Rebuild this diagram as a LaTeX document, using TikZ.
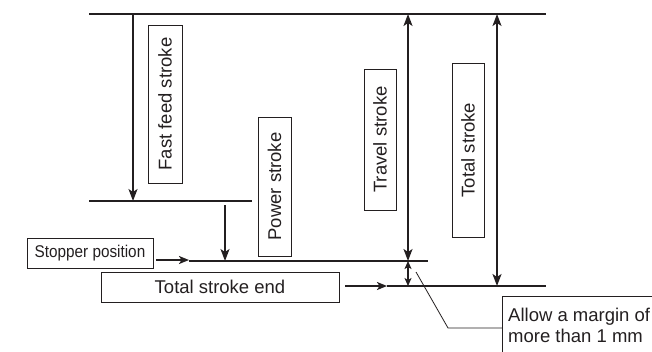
\documentclass[tikz,border=0pt]{standalone}
\usepackage{fontspec}
\setmainfont{Liberation Sans}
\usetikzlibrary{arrows.meta}
\definecolor{ink}{HTML}{231F20}
\tikzset{
  x=1pt, y=-1pt,
  every node/.style={text=ink, inner sep=0pt},
  lbl/.style={font=\fontsize{18.5}{21}\selectfont},
  vbox/.style={draw=ink, line width=0.9pt, rotate=90, lbl},
  hbox/.style={draw=ink, line width=0.9pt, lbl},
  level/.style={draw=ink, line width=1.2pt},
  dim/.style={draw=ink, line width=1.8pt,
    arrows={-Stealth[length=12pt,width=9pt,inset=3pt]}},
  dimboth/.style={draw=ink, line width=1.8pt,
    arrows={Stealth[length=12pt,width=9pt,inset=3pt]-Stealth[length=12pt,width=9pt,inset=3pt]}},
  small/.style={draw=ink, line width=1.6pt,
    arrows={Stealth[length=8pt,width=7pt,inset=2pt]-Stealth[length=8pt,width=7pt,inset=2pt]}},
  pointer/.style={draw=ink, line width=1.8pt,
    arrows={-Stealth[length=10pt,width=8pt,inset=2.5pt]}},
  leader/.style={draw=ink, line width=0.8pt},
}
\begin{document}
\begin{tikzpicture}
\useasboundingbox (0,0) rectangle (652,351);
\clip (0,0) rectangle (652,351);

% reference levels
\coordinate (topL) at (89,14);   \coordinate (topR) at (546,14);
\coordinate (midL) at (89,201);  \coordinate (midR) at (252,201);
\coordinate (stpL) at (189,261); \coordinate (stpR) at (428,261);
\coordinate (endL) at (387,286); \coordinate (endR) at (546,286);
\draw[level] (topL) -- (topR);
\draw[level] (midL) -- (midR);
\draw[level] (stpL) -- (stpR);
\draw[level] (endL) -- (endR);

% stroke arrows
\coordinate (ffT) at (133,14);  \coordinate (ffB) at (133,201);
\coordinate (pwT) at (225,205); \coordinate (pwB) at (225,261);
\coordinate (trT) at (408,14);  \coordinate (trB) at (408,261);
\coordinate (mgB) at (408,286);
\coordinate (toT) at (497,14);  \coordinate (toB) at (497,286);
\draw[dim] (ffT) -- (ffB);
\draw[dim] (pwT) -- (pwB);
\draw[dimboth] (trT) -- (trB);
\draw[small] (trB) -- (mgB);
\draw[dimboth] (toT) -- (toB);

% labels
\node[vbox, minimum width=158, minimum height=34] (fast) at (165,104) {Fast feed stroke};
\node[vbox, minimum width=139, minimum height=33] (power) at (274.5,186.5) {Power stroke};
\node[vbox, minimum width=141, minimum height=32] (travel) at (380,139.5) {Travel stroke};
\node[vbox, minimum width=174, minimum height=32] (total) at (468,150) {Total stroke};
\node[hbox, minimum width=126, minimum height=30,
      font=\fontsize{17}{20}\selectfont] (stopper) at (90,253)
      {\scalebox{0.9}[1]{Stopper position}};
\node[hbox, minimum width=238, minimum height=30] (tse) at (220,287) {Total stroke end};

% pointers to the levels
\draw[pointer] ([xshift=3pt]stopper.east |- 0,260) -- (stpL |- 0,260);
\draw[pointer] ([xshift=6pt]tse.east |- endL) -- (endL);

% margin note
\draw[draw=ink, line width=0.9pt] (670,296) -- (502,296) -- (502,370);
\node[lbl, anchor=west, align=left] (allow) at (508,325.5) {Allow a margin of\\more than 1 mm};
\coordinate (ldA) at (416,272);
\coordinate (ldB) at (448,328);
\draw[leader] (ldA) -- (ldB) -- (502,328);
\end{tikzpicture}
\end{document}
